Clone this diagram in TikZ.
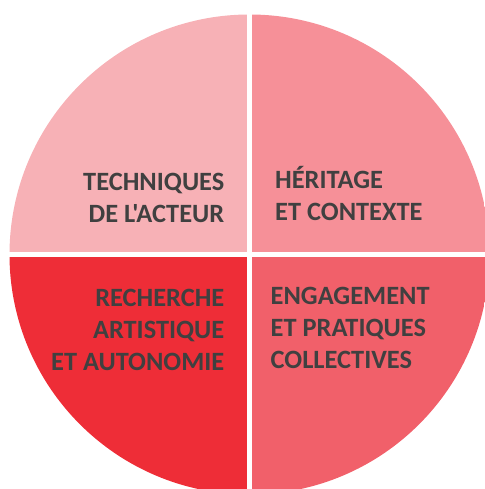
\documentclass[tikz,border=0pt]{standalone}
\usepackage{fontspec}
\newfontfamily\carlito{Carlito}
\usepackage{tikz}
\definecolor{qtl}{HTML}{F7B1B6}
\definecolor{qtr}{HTML}{F69098}
\definecolor{qbl}{HTML}{EE2D37}
\definecolor{qbr}{HTML}{F1606A}
\definecolor{txtgray}{HTML}{404040}

\begin{document}
\begin{tikzpicture}[x=1pt,y=1pt,lbl/.style={text=txtgray,inner sep=0pt,align=#1,font=\carlito\bfseries\fontsize{26.4}{32}\selectfont}]
\useasboundingbox (0,0) rectangle (484,489);
\begin{scope}
\clip (249.5,234.5) circle (240);
\foreach \c/\xa/\ya/\xb/\yb in %
{qtl/-10/236.8/247.2/500,qtr/251.8/236.8/500/500,qbl/-10/-10/247.2/232.2,qbr/251.8/-10/500/232.2} {
   \fill[\c] (\xa,\ya) rectangle (\xb,\yb);
}
\end{scope}
\node[lbl=right,anchor=base east] (tech) at (224.5,266.7) {TECHNIQUES\\DE L'ACTEUR};
\node[lbl=left,anchor=base west] (herit) at (275,268) {HÉRITAGE\\ET CONTEXTE};
\node[lbl=right,anchor=base east] (rech) at (224.5,118.3) {RECHERCHE\\ARTISTIQUE\\ET AUTONOMIE};
\node[lbl=left,anchor=base west] (engag) at (270.5,120) {ENGAGEMENT\\ET PRATIQUES\\COLLECTIVES};
\end{tikzpicture}
\end{document}
